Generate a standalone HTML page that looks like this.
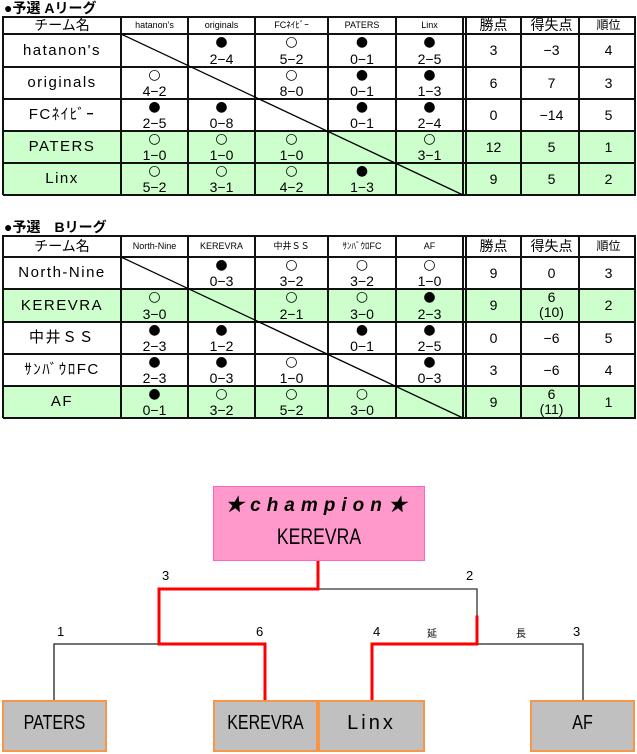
<!DOCTYPE html>
<html><head><meta charset="utf-8">
<style>
*{margin:0;padding:0;box-sizing:border-box}
body{width:637px;height:754px;overflow:hidden;background:#fff;position:relative;font-family:"Liberation Sans Narrow","Liberation Sans","Noto Sans CJK JP",sans-serif;color:#000}
.a{position:absolute}
.c{position:absolute;text-align:center;white-space:nowrap}
.t{font-family:"Liberation Sans","Noto Sans CJK JP",sans-serif;font-size:14px;font-weight:bold;line-height:16px}
</style></head><body>
<div class="a t" style="left:4px;top:0px">●予選 Aリーグ</div>
<div class="a t" style="left:4px;top:219px">●予選　Bリーグ</div>
<div id="root"></div>
<svg class="a" style="left:0;top:0" width="637" height="754">
<g fill="none" stroke-linecap="square">
<path d="M54 700 V644 H159" stroke="#222" stroke-width="1.3"/>
<path d="M318 589 H477 V617" stroke="#333" stroke-width="1.3"/>
<path d="M477 644 H583 V700" stroke="#222" stroke-width="1.3"/>
<path d="M318 561 V589 H159 V644 H265 V700" stroke="#f00" stroke-width="3"/>
<path d="M477 617 V644 H372 V700" stroke="#f00" stroke-width="3"/>
</g>
</svg>
<div class="a" style="left:213px;top:486px;width:212px;height:75px;background:#ff99cc;border:1px solid #f6b"></div>
<div class="c" style="left:213px;top:490px;width:212px;font-family:'Liberation Sans','Noto Sans CJK JP',sans-serif;font-size:19px;font-weight:bold;font-style:italic;letter-spacing:6px">★champion★</div>
<div class="c" style="left:213px;top:524px;width:212px;font-size:22px;transform:scaleX(.8)">KEREVRA</div>
<div class="a" style="left:2px;top:700px;width:105px;height:52px;background:#c0c0c0;border:2px solid #f79646"></div>
<div class="a" style="left:213px;top:700px;width:105px;height:52px;background:#c0c0c0;border:2px solid #f79646"></div>
<div class="a" style="left:318px;top:700px;width:107px;height:52px;background:#c0c0c0;border:2px solid #f79646"></div>
<div class="a" style="left:530px;top:700px;width:105px;height:52px;background:#c0c0c0;border:2px solid #f79646"></div>
<div class="c" style="left:2px;top:712px;width:105px;font-size:20px;transform:scaleX(.8)">PATERS</div>
<div class="c" style="left:213px;top:712px;width:105px;font-size:20px;transform:scaleX(.8)">KEREVRA</div>
<div class="c" style="left:318px;top:712px;width:107px;font-size:20px;letter-spacing:3px">Linx</div>
<div class="c" style="left:530px;top:712px;width:105px;font-size:20px;transform:scaleX(.8)">AF</div>
<div class="c" style="left:162px;top:568px;font-size:13px">3</div>
<div class="c" style="left:466px;top:568px;font-size:13px">2</div>
<div class="c" style="left:57px;top:624px;font-size:13px">1</div>
<div class="c" style="left:256px;top:624px;font-size:13px">6</div>
<div class="c" style="left:373px;top:624px;font-size:13px">4</div>
<div class="c" style="left:427px;top:625px;font-size:10px">延</div>
<div class="c" style="left:516px;top:625px;font-size:10px">長</div>
<div class="c" style="left:573px;top:624px;font-size:13px">3</div>
<script>
var cols=[3,121,188,255,328,396,463,521,579,635];
function tbl(top,rows,head,data,pts,green){
 var r=document.getElementById('root'),h='';
 var ys=[top];for(var i=0;i<rows.length;i++)ys.push(rows[i]);
 var y0=ys[0],yE=ys[ys.length-1];
 for(var i=0;i<green.length;i++){if(green[i]){h+='<div class="a" style="left:'+cols[0]+'px;top:'+ys[i+1]+'px;width:'+(cols[9]-cols[0])+'px;height:'+(ys[i+2]-ys[i+1])+'px;background:#ccffcc"></div>';}}
 for(var i=0;i<ys.length;i++){h+='<div class="a" style="left:'+cols[0]+'px;top:'+(ys[i]-1)+'px;width:'+(cols[9]-cols[0]+1)+'px;height:'+((i==0||i==ys.length-1)?2:1.5)+'px;background:#111"></div>';}
 for(var j=0;j<cols.length;j++){h+='<div class="a" style="left:'+(cols[j]-1)+'px;top:'+(y0-1)+'px;width:'+((j==0||j==9)?2:1.5)+'px;height:'+(yE-y0+1)+'px;background:#111"></div>';}
 h+='<div class="a" style="left:'+(cols[6]+2)+'px;top:'+(y0-1)+'px;width:1.5px;height:'+(yE-y0+1)+'px;background:#111"></div>';
 var hh=ys[1]-ys[0];
 h+='<div class="c" style="left:'+cols[0]+'px;width:'+(cols[1]-cols[0])+'px;top:'+y0+'px;line-height:'+hh+'px;font-size:14px;font-family:\'Liberation Sans\',\'Noto Sans CJK JP\',sans-serif">チーム名</div>';
 for(var j=0;j<5;j++)h+='<div class="c" style="left:'+cols[j+1]+'px;width:'+(cols[j+2]-cols[j+1])+'px;top:'+y0+'px;line-height:'+hh+'px;font-size:9px">'+head[j]+'</div>';
 var hd=['勝点','得失点','順位'];
 for(var j=0;j<3;j++)h+='<div class="c" style="left:'+(cols[j+6]+3)+'px;width:'+(cols[j+7]-cols[j+6]-3)+'px;top:'+y0+'px;line-height:'+hh+'px;font-size:'+(j==2?12:14)+'px;font-family:\'Liberation Sans\',\'Noto Sans CJK JP\',sans-serif">'+hd[j]+'</div>';
 for(var i=0;i<data.length;i++){
  var ya=ys[i+1],yb=ys[i+2],rh=yb-ya;
  h+='<div class="c" style="left:'+cols[0]+'px;width:'+(cols[1]-cols[0])+'px;top:'+ya+'px;line-height:'+rh+'px;font-size:15px;letter-spacing:1.5px;font-family:\'Liberation Sans\',\'Noto Sans CJK JP\',sans-serif">'+data[i][0]+'</div>';
  for(var j=0;j<5;j++){var v=data[i][j+1];if(!v)continue;var s=v.split(' ');
   var x=cols[j+1],w=cols[j+2]-x;
   h+='<div class="c" style="left:'+x+'px;width:'+w+'px;top:'+(ya+1)+'px;font-size:14px;line-height:14px;font-family:\'DejaVu Sans\',sans-serif">'+(s[0]=='W'?'○':'●')+'</div>';
   h+='<div class="c" style="left:'+x+'px;width:'+w+'px;top:'+(yb-16)+'px;font-size:14px;line-height:16px">'+s[1].replace('-','−')+'</div>';}
  for(var j=0;j<3;j++){var v=pts[i][j];var x=cols[j+6]+3,w=cols[j+7]-x;
   if(v.indexOf('|')>=0){var p=v.split('|');h+='<div class="c" style="left:'+x+'px;width:'+w+'px;top:'+(ya+1)+'px;font-size:14px;line-height:15px">'+p[0]+'<br>'+p[1]+'</div>';}
   else h+='<div class="c" style="left:'+x+'px;width:'+w+'px;top:'+ya+'px;line-height:'+rh+'px;font-size:14px">'+v.replace('-','−')+'</div>';}
 }
 h+='<svg class="a" style="left:0;top:0" width="637" height="754"><line x1="'+cols[1]+'" y1="'+ys[1]+'" x2="'+cols[6]+'" y2="'+yE+'" stroke="#000" stroke-width="1.3"/></svg>';
 r.insertAdjacentHTML('beforeend',h);
}
tbl(17,[34,67,99,131,163,195],["hatanon's","originals","FCﾈｲﾋﾞｰ","PATERS","Linx"],
[["hatanon's","","L 2-4","W 5-2","L 0-1","L 2-5"],
 ["originals","W 4-2","","W 8-0","L 0-1","L 1-3"],
 ["FCﾈｲﾋﾞｰ","L 2-5","L 0-8","","L 0-1","L 2-4"],
 ["PATERS","W 1-0","W 1-0","W 1-0","","W 3-1"],
 ["Linx","W 5-2","W 3-1","W 4-2","L 1-3",""]],
[["3","-3","4"],["6","7","3"],["0","-14","5"],["12","5","1"],["9","5","2"]],[0,0,0,1,1]);
tbl(236,[257,289,322,354,386,418],["North-Nine","KEREVRA","中井ＳＳ","ｻﾝﾊﾞｳﾛFC","AF"],
[["North-Nine","","L 0-3","W 3-2","W 3-2","W 1-0"],
 ["KEREVRA","W 3-0","","W 2-1","W 3-0","L 2-3"],
 ["中井ＳＳ","L 2-3","L 1-2","","L 0-1","L 2-5"],
 ["ｻﾝﾊﾞｳﾛFC","L 2-3","L 0-3","W 1-0","","L 0-3"],
 ["AF","L 0-1","W 3-2","W 5-2","W 3-0",""]],
[["9","0","3"],["9","6|(10)","2"],["0","-6","5"],["3","-6","4"],["9","6|(11)","1"]],[0,1,0,0,1]);
</script>
</body></html>
